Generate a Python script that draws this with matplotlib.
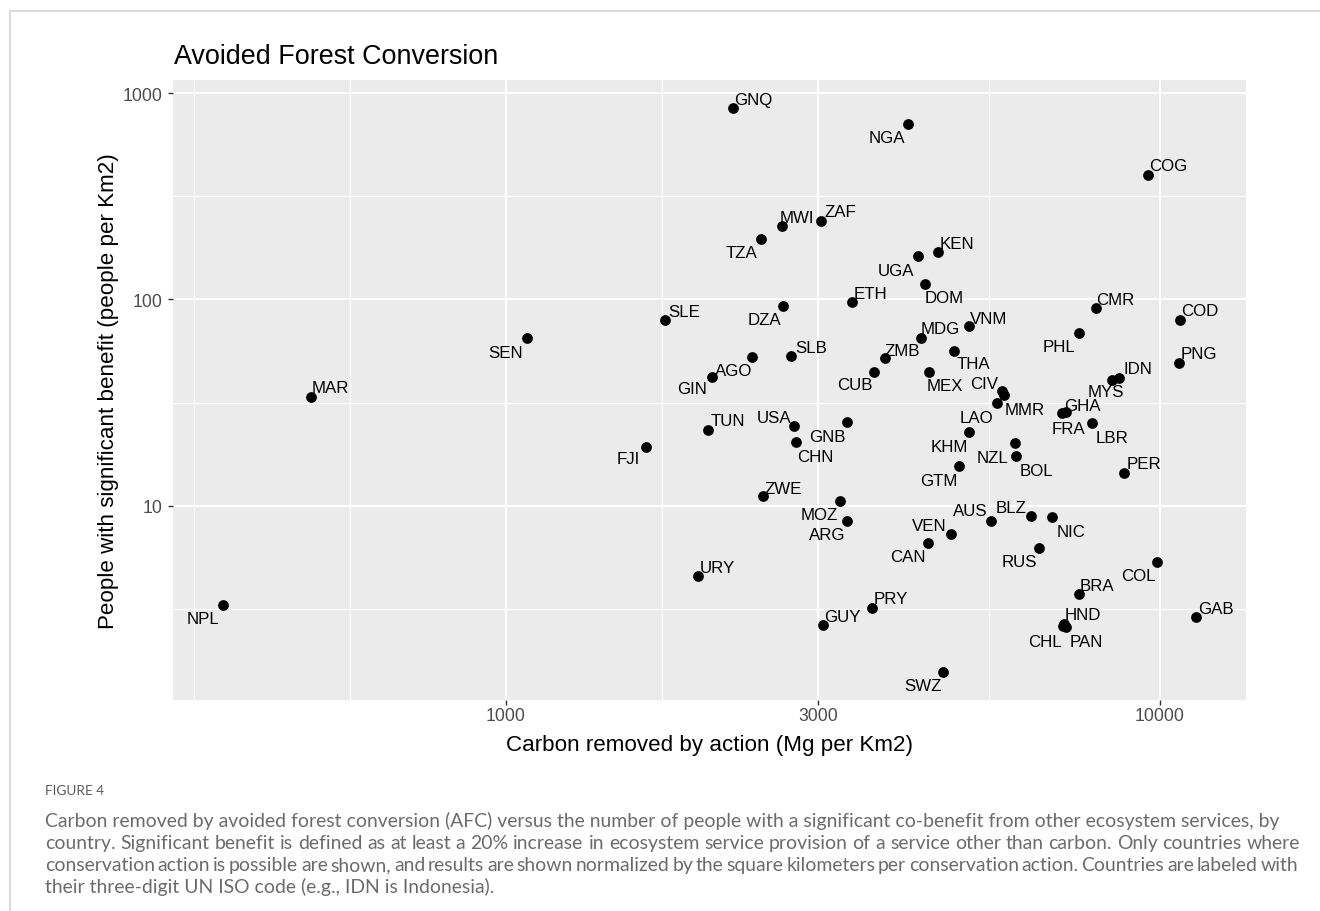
import matplotlib
matplotlib.use("Agg")
import matplotlib.pyplot as plt
from matplotlib.lines import Line2D
from matplotlib.ticker import FixedLocator, NullFormatter

# ---------------- data ----------------
countries = ["NPL","MAR","SEN","FJI","SLE","URY","TUN","GIN","GNQ","AGO",
             "TZA","ZWE","MWI","DZA","SLB","USA","CHN","ZAF","GUY","MOZ",
             "GNB","ARG","ETH","PRY","CUB","ZMB","NGA","UGA","MDG","DOM",
             "CAN","MEX","KEN","SWZ","VEN","THA","GTM","VNM","KHM","AUS",
             "LAO","CIV","MMR","NZL","BOL","BLZ","RUS","NIC","FRA","GHA",
             "HND","CHL","PAN","PHL","BRA","LBR","CMR","MYS","IDN","PER",
             "COG","COL","PNG","COD","GAB"]
carbon = [369, 503, 1078, 1637, 1750, 1964, 2038, 2063, 2226, 2377,
          2457, 2474, 2640, 2655, 2728, 2754, 2773, 3034, 3056, 3241,
          3318, 3326, 3378, 3624, 3657, 3797, 4114, 4262, 4307, 4377,
          4419, 4435, 4581, 4650, 4783, 4842, 4936, 5105, 5105, 5515,
          5627, 5728, 5780, 6002, 6023, 6342, 6531, 6829, 7074, 7182,
          7131, 7098, 7182, 7517, 7517, 7870, 7991, 8453, 8667, 8810,
          9596, 9895, 10703, 10717, 11364]
people = [3.31, 33.8, 65.1, 19.3, 79.8, 4.55, 23.4, 42.2, 846, 52.4,
          196.6, 11.1, 226.5, 93.3, 53.4, 24.3, 20.3, 241.1, 2.64, 10.5,
          25.55, 8.46, 96.9, 3.19, 44.4, 51.9, 709.8, 163.1, 65.3, 118.5,
          6.59, 44.4, 169.4, 1.56, 7.29, 56.3, 15.57, 74.1, 22.8, 8.46,
          31.5, 36.1, 34.4, 20.07, 17.36, 8.88, 6.23, 8.78, 28.06, 28.6,
          2.67, 2.61, 2.59, 68.8, 3.72, 25.2, 90.9, 40.7, 41.6, 14.45,
          402.9, 5.33, 49.2, 79.8, 2.88]
x_ticks = [1000, 3000, 10000]
x_tick_labels = ["1000", "3000", "10000"]
y_ticks = [10, 100, 1000]
y_tick_labels = ["10", "100", "1000"]
x_minor = [333.3, 577.4, 1732, 5477]
y_minor = [3.162, 31.62, 316.2]

title = "Avoided Forest Conversion"
xlabel = "Carbon removed by action (Mg per Km2)"
ylabel = "People with significant benefit (people per Km2)"
fig_label = "FIGURE 4"
caption_lines = [
    "Carbon removed by avoided forest conversion (AFC) versus the number of people with a significant co-benefit from other ecosystem services, by",
    "country. Significant benefit is defined as at least a 20% increase in ecosystem service provision of a service other than carbon. Only countries where",
    "conservation action is possible are shown, and results are shown normalized by the square kilometers per conservation action. Countries are labeled with",
    "their three-digit UN ISO code (e.g., IDN is Indonesia).",
]

# ---------------- layout (label offsets, pixels: right, down) ----------------
label_offsets = {
    "GNQ": (20, -10), "NGA": (-21, 12.3), "MWI": (15.3, -10.6), "ZAF": (19.4, -10.7),
    "TZA": (-20.3, 11.7), "KEN": (19, -10.6), "UGA": (-21.4, 13.3), "DOM": (18.4, 12),
    "ETH": (19, -10.6), "SLE": (19, -10), "DZA": (-19, 12.6), "MDG": (19, -10.4),
    "VNM": (19.7, -9.6), "ZMB": (17.3, -9.3), "SLB": (19.7, -10), "AGO": (-18.7, 11.7),
    "GIN": (-19.7, 10.6), "CUB": (-19.6, 10.7), "MEX": (16, 11.7), "THA": (19.3, 11.4),
    "CIV": (-17.7, -8.7), "MMR": (20, 13.3), "LAO": (-20, 13), "KHM": (-19.7, 13),
    "GTM": (-20.3, 13.3), "NZL": (-22.3, 12.7), "BOL": (20.7, 12.7), "FRA": (7, 14),
    "GHA": (16.3, -7.4), "LBR": (19.7, 12.7), "MYS": (-6.3, 9.7), "IDN": (19, -10.7),
    "PER": (20.3, -11), "AUS": (-20.7, -11.7), "BLZ": (-20, -10), "NIC": (19.3, 12.4),
    "VEN": (-21.6, -10), "CAN": (-20.3, 12), "RUS": (-19.3, 12), "COL": (-18.7, 12),
    "BRA": (18, -10.3), "HND": (18.7, -11), "CHL": (-18, 13.7), "PAN": (20, 13),
    "GAB": (19.7, -10), "SWZ": (-20, 12), "PHL": (-19.7, 12), "CMR": (19.4, -10),
    "COD": (19.6, -10.7), "PNG": (20, -10.7), "COG": (19.7, -10.7), "SEN": (-21.3, 12.7),
    "MAR": (19.3, -10.7), "NPL": (-20, 12.6), "FJI": (-18, 10.3), "TUN": (19.4, -10.7),
    "USA": (-20, -10), "GNB": (-19.7, 13), "CHN": (19.6, 12.7), "ZWE": (20, -9.6),
    "MOZ": (-20.3, 12), "ARG": (-20.3, 12.3), "URY": (19.6, -10), "GUY": (19.4, -10),
    "PRY": (19, -10.7),
}

W, H = 1320, 912
DPI = 100
SANS = "Liberation Sans"

fig = plt.figure(figsize=(W / DPI, H / DPI), dpi=DPI)
fig.patch.set_facecolor("white")


def fx(px):
    return px / W


def fy(py):
    return 1 - py / H


# panel
pl, pr, pt, pb = 173.3, 1245.5, 80.7, 701.0
ax = fig.add_axes([fx(pl), fy(pb), (pr - pl) / W, (pb - pt) / H])
ax.set_facecolor("#EBEBEB")
ax.set_xscale("log")
ax.set_yscale("log")
ax.set_xlim(309.9, 13512)
ax.set_ylim(1.142, 1164)
for s in ax.spines.values():
    s.set_visible(False)

ax.set_xticks(x_ticks)
ax.set_xticklabels(x_tick_labels)
ax.set_yticks(y_ticks)
ax.set_yticklabels(y_tick_labels)
ax.xaxis.set_minor_locator(FixedLocator(x_minor))
ax.yaxis.set_minor_locator(FixedLocator(y_minor))
ax.xaxis.set_minor_formatter(NullFormatter())
ax.yaxis.set_minor_formatter(NullFormatter())

ax.grid(which="major", color="white", lw=1.5)
ax.grid(which="minor", color="white", lw=0.8)
ax.set_axisbelow(True)
ax.tick_params(which="major", length=3.6, width=1.0, color="#333333",
               labelcolor="#4D4D4D", labelsize=12.7)
ax.tick_params(axis="x", which="major", pad=1.8)
ax.tick_params(axis="y", which="major", pad=4.0)
ax.tick_params(which="minor", length=0)
for lab in ax.get_xticklabels() + ax.get_yticklabels():
    lab.set_family(SANS)

ax.scatter(carbon, people, s=60, c="black", linewidths=0, zorder=3)

LFS = 12.2
cap_half = 0.716 * LFS * DPI / 72 / 2
for name, xv, yv in zip(countries, carbon, people):
    dx, dy = label_offsets.get(name, (19.5, -10.5))
    ax.annotate(name, (xv, yv), xytext=(dx, -(dy + cap_half)),
                textcoords="offset pixels", ha="center", va="baseline",
                fontsize=LFS, family=SANS, color="black", zorder=4)

# titles
fig.text(fx(174), fy(64.3), title, fontsize=19.4, family=SANS, color="black",
         ha="left", va="baseline")
fig.text(fx((pl + pr) / 2), fy(751), xlabel, fontsize=16.1, family=SANS,
         color="black", ha="center", va="baseline")
fig.text(fx(114), fy((pt + pb) / 2), ylabel, fontsize=16.1, family=SANS,
         color="black", ha="center", va="baseline", rotation=90,
         rotation_mode="anchor")

# frame lines of the figure container
fig.add_artist(Line2D([fx(9.5), fx(9.5)], [fy(12), 0], transform=fig.transFigure,
                      color="#d4d4d4", lw=1.2))
fig.add_artist(Line2D([fx(9.5), 1], [fy(12), fy(12)], transform=fig.transFigure,
                      color="#d4d4d4", lw=1.2))

# caption
CAP_FONT = "Lato"
CAP_COLOR = "#6b6b6b"
renderer = fig.canvas.get_renderer()


def text_width(s, fs):
    t = fig.text(0, 0, s, fontsize=fs, family=CAP_FONT)
    w = t.get_window_extent(renderer).width
    t.remove()
    return w


cx0 = 45
fig.text(fx(cx0), fy(795), fig_label, fontsize=9.8, family=CAP_FONT,
         color="#5c5c5c", ha="left", va="baseline")

base_fs = 13.0
cfs = base_fs * (1300 - cx0) / text_width(caption_lines[1], base_fs)
targets = [None, 1300, 1298, None]
baselines = [827, 849, 871, 893]
for line, tgt, by in zip(caption_lines, targets, baselines):
    if tgt is None:
        fig.text(fx(cx0), fy(by), line, fontsize=cfs, family=CAP_FONT,
                 color=CAP_COLOR, ha="left", va="baseline")
        continue
    words = line.split(" ")
    widths = [text_width(w, cfs) for w in words]
    gap = ((tgt - cx0) - sum(widths)) / (len(words) - 1)
    xcur = cx0
    for w, wd in zip(words, widths):
        fig.text(fx(xcur), fy(by), w, fontsize=cfs, family=CAP_FONT,
                 color=CAP_COLOR, ha="left", va="baseline")
        xcur += wd + gap

fig.savefig("out.png", dpi=DPI, facecolor="white")
